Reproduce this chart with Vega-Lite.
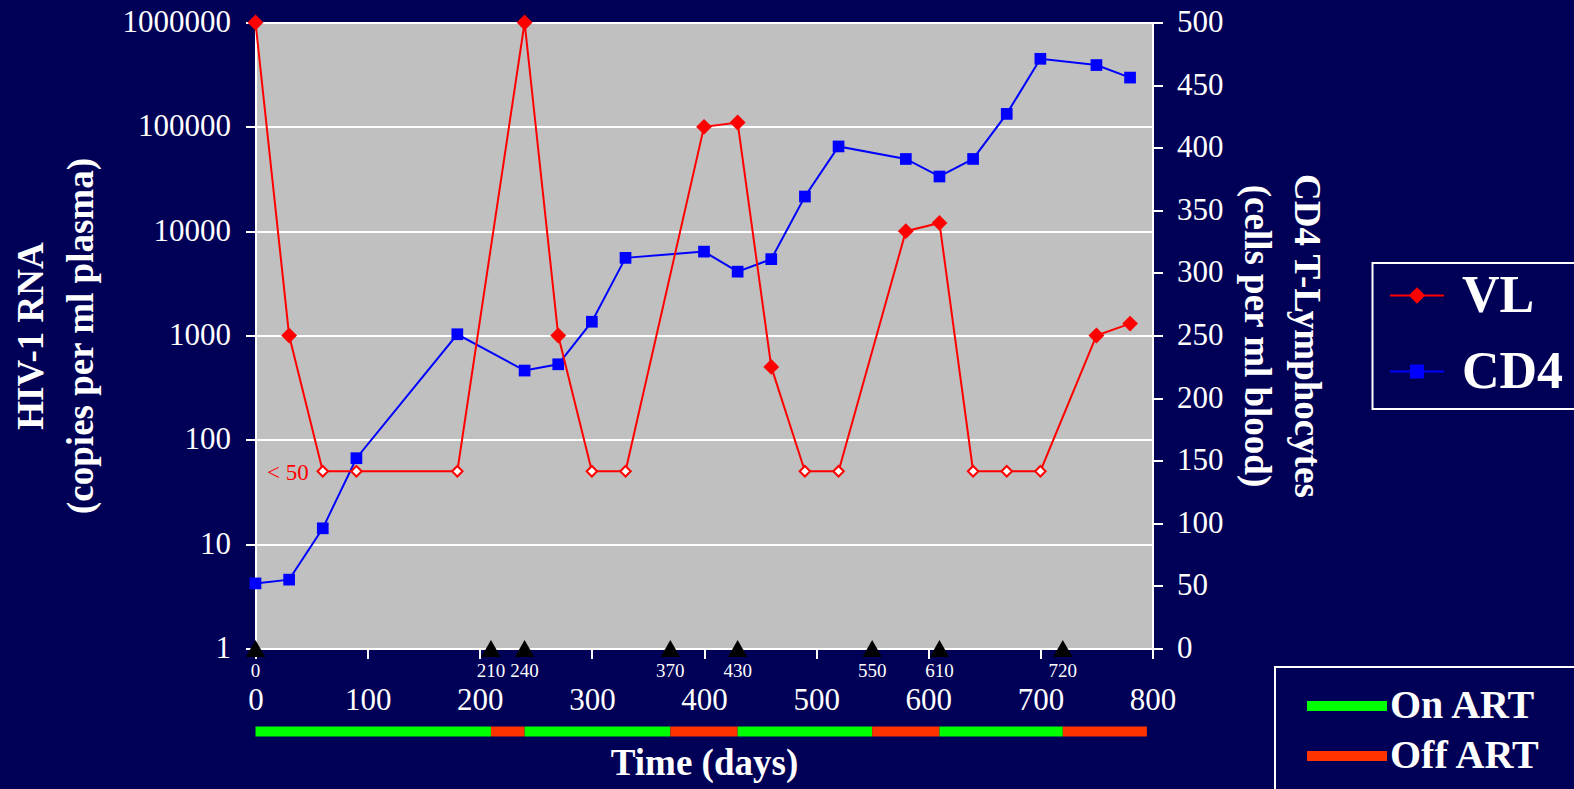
{
  "$schema": "https://vega.github.io/schema/vega-lite/v6.json",
  "background": "#000056",
  "autosize": {"type": "none"},
  "padding": {"left": 255.5, "top": 22.5, "right": 1318.5, "bottom": 766.5},
  "bounds": "flush",
  "spacing": 78,
  "config": {
    "font": "Liberation Serif",
    "view": {"stroke": null},
    "axis": {
      "labelFont": "Liberation Serif", "labelFontSize": 31, "labelColor": "white",
      "titleFont": "Liberation Serif", "titleFontSize": 37, "titleFontWeight": "bold", "titleColor": "white",
      "domainColor": "white", "domainWidth": 2, "tickColor": "white", "tickWidth": 2, "tickSize": 10,
      "gridColor": "white", "gridWidth": 2, "gridOpacity": 1,
      "labelFlush": false, "labelOverlap": false, "labelBound": false
    },
    "legend": {"strokeWidth": 2}
  },
  "datasets": {
    "vl": [
      {"day": 0, "copies": 1000000, "below_limit": false},
      {"day": 30, "copies": 1000, "below_limit": false},
      {"day": 60, "copies": 50, "below_limit": true},
      {"day": 90, "copies": 50, "below_limit": true},
      {"day": 180, "copies": 50, "below_limit": true},
      {"day": 240, "copies": 1000000, "below_limit": false},
      {"day": 270, "copies": 1000, "below_limit": false},
      {"day": 300, "copies": 50, "below_limit": true},
      {"day": 330, "copies": 50, "below_limit": true},
      {"day": 400, "copies": 100000, "below_limit": false},
      {"day": 430, "copies": 110000, "below_limit": false},
      {"day": 460, "copies": 500, "below_limit": false},
      {"day": 490, "copies": 50, "below_limit": true},
      {"day": 520, "copies": 50, "below_limit": true},
      {"day": 580, "copies": 10000, "below_limit": false},
      {"day": 610, "copies": 12000, "below_limit": false},
      {"day": 640, "copies": 50, "below_limit": true},
      {"day": 670, "copies": 50, "below_limit": true},
      {"day": 700, "copies": 50, "below_limit": true},
      {"day": 750, "copies": 1000, "below_limit": false},
      {"day": 780, "copies": 1300, "below_limit": false}
    ],
    "cd4": [
      {"day": 0, "cells": 52}, {"day": 30, "cells": 55}, {"day": 60, "cells": 96},
      {"day": 90, "cells": 152}, {"day": 180, "cells": 251}, {"day": 240, "cells": 222},
      {"day": 270, "cells": 227}, {"day": 300, "cells": 261}, {"day": 330, "cells": 312},
      {"day": 400, "cells": 317}, {"day": 430, "cells": 301}, {"day": 460, "cells": 311},
      {"day": 490, "cells": 361}, {"day": 520, "cells": 401}, {"day": 580, "cells": 391},
      {"day": 610, "cells": 377}, {"day": 640, "cells": 391}, {"day": 670, "cells": 427},
      {"day": 700, "cells": 471}, {"day": 750, "cells": 466}, {"day": 780, "cells": 456}
    ],
    "switches": [
      {"day": 0}, {"day": 210}, {"day": 240}, {"day": 370},
      {"day": 430}, {"day": 550}, {"day": 610}, {"day": 720}
    ],
    "notes": [{"day": 60, "copies": 50, "note": "< 50"}],
    "art": [
      {"start": 0, "end": 210, "status": "On ART"},
      {"start": 210, "end": 240, "status": "Off ART"},
      {"start": 240, "end": 370, "status": "On ART"},
      {"start": 370, "end": 430, "status": "Off ART"},
      {"start": 430, "end": 550, "status": "On ART"},
      {"start": 550, "end": 610, "status": "Off ART"},
      {"start": 610, "end": 720, "status": "On ART"},
      {"start": 720, "end": 795, "status": "Off ART"}
    ]
  },
  "vconcat": [
    {
      "width": 897,
      "height": 626,
      "view": {"fill": "#C0C0C0", "stroke": null},
      "encoding": {
        "x": {
          "field": "day", "type": "quantitative",
          "scale": {"domain": [0, 800], "nice": false},
          "axis": {
            "title": null, "grid": false, "format": "d",
            "values": [0, 100, 200, 300, 400, 500, 600, 700, 800],
            "labelPadding": 27
          }
        }
      },
      "layer": [
        {
          "data": {"name": "cd4"},
          "encoding": {
            "y": {
              "field": "cells", "type": "quantitative",
              "scale": {"domain": [0, 500], "nice": false},
              "axis": {
                "orient": "right", "grid": false, "format": "d",
                "values": [0, 50, 100, 150, 200, 250, 300, 350, 400, 450, 500],
                "labelPadding": 14,
                "title": ["CD4 T-Lymphocytes", "(cells per ml blood)"],
                "titlePadding": 13, "titleLineHeight": 50
              }
            }
          },
          "layer": [
            {
              "mark": {"type": "line", "strokeWidth": 2},
              "encoding": {
                "color": {
                  "datum": "CD4", "type": "nominal",
                  "scale": {"domain": ["VL", "CD4"], "range": ["#FF0000", "#0000FF"]},
                  "legend": {
                    "title": null, "orient": "none", "legendX": 1117, "legendY": 240.5,
                    "direction": "vertical",
                    "strokeColor": "white", "padding": 11.5,
                    "labelFont": "Liberation Serif", "labelFontSize": 52, "labelFontWeight": "bold",
                    "labelColor": "white", "labelOffset": 17,
                    "clipHeight": 42, "rowPadding": 24,
                    "symbolSize": 2916, "symbolStrokeWidth": 2, "symbolOffset": 5,
                    "symbolType": "M-1,0H1",
                    "encode": {
                      "symbols": {
                        "update": {
                          "shape": {"signal": "datum.value === 'VL' ? 'M-1,0H1M0,-0.25L0.25,0L0,0.25L-0.25,0Z' : 'M-1,0H1M-0.22,-0.22H0.22V0.22H-0.22Z'"},
                          "fill": {"signal": "datum.value === 'VL' ? '#FF0000' : '#0000FF'"},
                          "stroke": {"signal": "datum.value === 'VL' ? '#FF0000' : '#0000FF'"},
                          "opacity": {"value": 1},
                          "fillOpacity": {"value": 1}
                        }
                      }
                    }
                  }
                }
              }
            },
            {
              "mark": {"type": "point", "shape": "square", "filled": true, "size": 137, "color": "#0000FF", "opacity": 1}
            }
          ]
        },
        {
          "layer": [
            {
              "data": {"name": "vl"},
              "mark": {"type": "line", "strokeWidth": 2},
              "encoding": {
                "y": {
                  "field": "copies", "type": "quantitative",
                  "scale": {"type": "log", "domain": [1, 1000000], "nice": false},
                  "axis": {
                    "orient": "left", "grid": true, "format": "d",
                    "values": [1, 10, 100, 1000, 10000, 100000, 1000000],
                    "labelPadding": 15,
                    "title": ["HIV-1 RNA", "(copies per ml plasma)"],
                    "titlePadding": 22, "titleLineHeight": 50
                  }
                },
                "color": {"datum": "VL", "type": "nominal"}
              }
            },
            {
              "data": {"name": "vl"},
              "mark": {"type": "point", "shape": "diamond", "size": 170, "stroke": "#FF0000", "strokeWidth": 2, "opacity": 1},
              "encoding": {
                "y": {"field": "copies", "type": "quantitative", "scale": {"type": "log", "domain": [1, 1000000], "nice": false}},
                "fill": {"condition": {"test": "datum.below_limit", "value": "#FFFFFF"}, "value": "#FF0000"},
                "size": {"condition": {"test": "datum.below_limit", "value": 110}, "value": 170}
              }
            },
            {
              "data": {"name": "notes"},
              "mark": {"type": "text", "align": "right", "baseline": "middle", "dx": -14, "dy": 2, "fontSize": 23, "font": "Liberation Serif", "color": "#FF0000"},
              "encoding": {
                "y": {"field": "copies", "type": "quantitative", "scale": {"type": "log", "domain": [1, 1000000], "nice": false}},
                "text": {"field": "note"}
              }
            },
            {
              "data": {"name": "switches"},
              "mark": {"type": "point", "shape": "triangle-up", "filled": true, "size": 380, "color": "#000000", "opacity": 1},
              "encoding": {"y": {"datum": 1, "type": "quantitative", "scale": {"type": "log", "domain": [1, 1000000], "nice": false}}}
            },
            {
              "data": {"name": "switches"},
              "mark": {"type": "text", "baseline": "middle", "align": "center", "dy": 22, "fontSize": 19, "font": "Liberation Serif", "color": "white"},
              "encoding": {
                "y": {"datum": 1, "type": "quantitative", "scale": {"type": "log", "domain": [1, 1000000], "nice": false}},
                "text": {"field": "day", "type": "quantitative", "format": "d"}
              }
            }
          ]
        }
      ],
      "resolve": {"scale": {"y": "independent"}, "axis": {"y": "independent"}}
    },
    {
      "width": 897,
      "height": 10,
      "data": {"name": "art"},
      "mark": {"type": "rect"},
      "encoding": {
        "x": {
          "field": "start", "type": "quantitative",
          "scale": {"domain": [0, 800], "nice": false},
          "axis": {"title": "Time (days)", "labels": false, "ticks": false, "domain": false, "grid": false, "titlePadding": 9}
        },
        "x2": {"field": "end"},
        "color": {
          "field": "status", "type": "nominal",
          "scale": {"domain": ["On ART", "Off ART"], "range": ["#00FF00", "#FF3300"]},
          "legend": {
            "title": "\u00a0", "titleOrient": "right", "titlePadding": 20, "titleFontSize": 10,
            "orient": "none", "legendX": 1019.5, "legendY": -59.5,
            "direction": "vertical",
            "strokeColor": "white", "padding": 19,
            "labelFont": "Liberation Serif", "labelFontSize": 40, "labelFontWeight": "bold",
            "labelColor": "white", "labelOffset": 3, "symbolOffset": 13,
            "clipHeight": 40, "rowPadding": 10,
            "symbolType": "M-1,-0.125H1V0.125H-1Z", "symbolSize": 6400, "symbolStrokeWidth": 0,
            "symbolOpacity": 1
          }
        }
      }
    }
  ],
  "resolve": {"scale": {"color": "independent"}, "legend": {"color": "independent"}}
}
